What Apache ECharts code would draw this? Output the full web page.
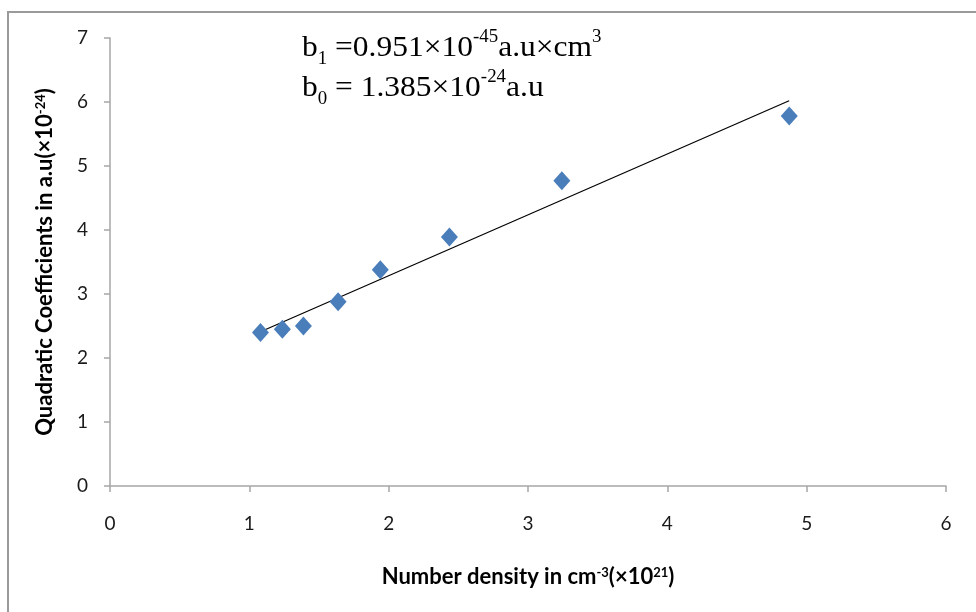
<!DOCTYPE html>
<html><head><meta charset="utf-8">
<script src="https://cdn.jsdelivr.net/npm/echarts@6/dist/echarts.min.js"></script>
<style>html,body{margin:0;padding:0;background:#fff}#c{width:976px;height:612px}</style>
</head><body><div id="c"></div>
<script>
// Data
const densityX = [1.08, 1.237, 1.388, 1.637, 1.94, 2.436, 3.243, 4.875];
const coeffY   = [2.40, 2.45, 2.50, 2.88, 3.38, 3.89, 4.77, 5.78];
const trendX   = [1.08, 4.874];
const trendY   = [2.41, 6.02];
const xTicks   = [0, 1, 2, 3, 4, 5, 6];
const yTicks   = [0, 1, 2, 3, 4, 5, 6, 7];

const points = densityX.map((x, i) => [x, coeffY[i]]);
const trend = trendX.map((x, i) => [x, trendY[i]]);

const chart = echarts.init(document.getElementById('c'), null, {renderer: 'canvas'});
const tickFont = {fontFamily: 'Lato', fontSize: 19, color: '#1a1a1a'};
const axisGray = '#a6a6a6';
const supStyle = {fontFamily: 'Lato', fontSize: 13, fontWeight: 'bold', verticalAlign: 'top', lineHeight: 13, padding: [0, 0, 10, 0]};
chart.setOption({
  animation: false,
  backgroundColor: '#fff',
  grid: {left: 110, right: 30, top: 38, bottom: 126, containLabel: false},
  xAxis: {
    type: 'value', min: xTicks[0], max: xTicks[xTicks.length - 1], interval: 1,
    splitLine: {show: false},
    axisLine: {lineStyle: {color: axisGray, width: 1.5}},
    axisTick: {show: true, inside: false, length: 6, lineStyle: {color: axisGray, width: 1.5}},
    axisLabel: Object.assign({margin: 28}, tickFont),
    name: 'Number density in cm{sup|-3}(×10{sup|21})',
    nameLocation: 'middle', nameGap: 80,
    nameTextStyle: {
      fontFamily: 'Lato', fontSize: 22, fontWeight: 'bold', color: '#000',
      rich: {sup: supStyle}
    }
  },
  yAxis: {
    type: 'value', min: yTicks[0], max: yTicks[yTicks.length - 1], interval: 1,
    splitLine: {show: false},
    axisLine: {show: true, lineStyle: {color: axisGray, width: 1.5}},
    axisTick: {show: true, inside: false, length: 6, lineStyle: {color: axisGray, width: 1.5}},
    axisLabel: Object.assign({margin: 22}, tickFont),
    name: 'Quadratic Coefficients in a.u(×10{sup|-24})',
    nameLocation: 'middle', nameGap: 54, nameRotate: 90,
    nameTextStyle: {
      fontFamily: 'Lato', fontSize: 22, fontWeight: 'bold', color: '#000',
      rich: {sup: supStyle}
    }
  },
  series: [
    {
      type: 'line', data: trend, symbol: 'none', silent: true,
      lineStyle: {color: '#000', width: 1.2}, z: 2
    },
    {
      type: 'scatter', data: points, symbol: 'diamond', symbolSize: [17, 19],
      itemStyle: {color: '#4A7EBB', opacity: 1}, z: 3
    }
  ],
  graphic: [
    {type: 'rect', shape: {x: 8, y: 12, width: 1100, height: 800}, style: {fill: 'none', stroke: '#9a9a9a', lineWidth: 2}, z: -1},
    {
      type: 'text', x: 302, y: 28, scaleX: 1.05, originX: 0, originY: 0,
      style: {
        text: 'b{sub|1} =0.951×10{sup|-45}a.u×cm{sup|3}\nb{sub|0} = 1.385×10{sup|-24}a.u',
        fontFamily: 'Liberation Serif', fontSize: 30, fill: '#000', lineHeight: 40,
        rich: {
          sub: {fontFamily: 'Liberation Serif', fontSize: 18, verticalAlign: 'bottom', padding: [12, 0, 0, 0]},
          sup: {fontFamily: 'Liberation Serif', fontSize: 18, verticalAlign: 'top', padding: [0, 0, 14, 0]}
        }
      }
    }
  ]
});
</script></body></html>
